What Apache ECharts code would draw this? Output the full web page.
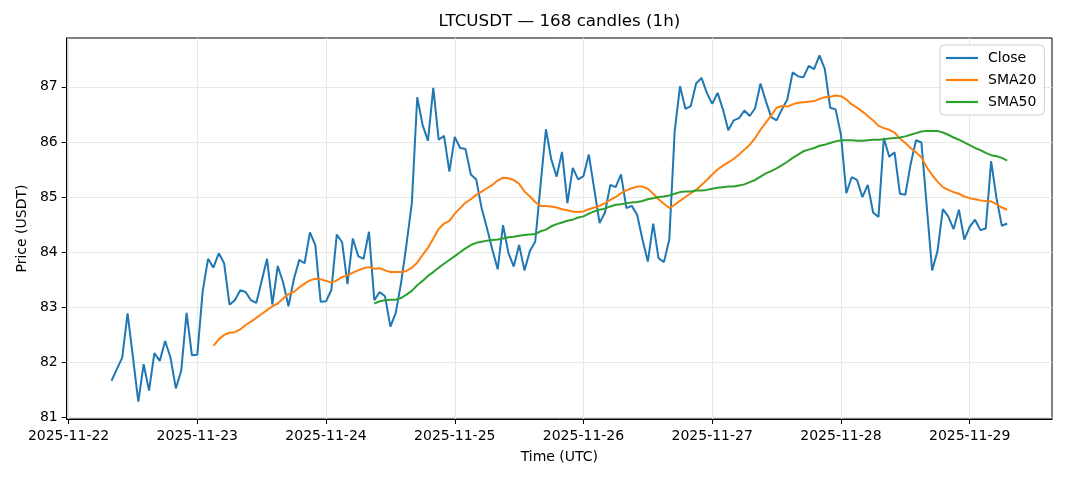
<!DOCTYPE html>
<html>
<head>
<meta charset="utf-8">
<script src="https://cdn.jsdelivr.net/npm/echarts@6/dist/echarts.min.js"></script>
<style>
html,body{margin:0;padding:0;background:#ffffff;}
#chart{width:1068px;height:481px;}
</style>
</head>
<body>
<div id="chart"></div>
<script>
// first candle: 2025-11-22 08:00 UTC, one candle per hour
const firstHour = 8;
const dayLabels = ['2025-11-22','2025-11-23','2025-11-24','2025-11-25','2025-11-26','2025-11-27','2025-11-28','2025-11-29'];
const priceTicks = [81, 82, 83, 84, 85, 86, 87];

const closeValues = [
  81.67,81.88,82.09,82.89,82.10,81.29,81.97,81.49,82.17,82.03,82.39,82.09,81.53,81.85,82.90,82.13,
  82.14,83.29,83.88,83.72,83.98,83.80,83.05,83.13,83.31,83.28,83.13,83.08,83.48,83.88,83.05,83.75,
  83.45,83.02,83.51,83.86,83.80,84.36,84.13,83.10,83.11,83.32,84.32,84.18,83.42,84.25,83.93,83.88,
  84.37,83.13,83.28,83.20,82.65,82.90,83.45,84.14,84.89,86.81,86.31,86.02,86.98,86.04,86.11,85.46,
  86.09,85.89,85.87,85.41,85.32,84.80,84.44,84.05,83.69,84.49,83.99,83.74,84.13,83.67,84.02,84.19,
  85.22,86.23,85.68,85.37,85.82,84.89,85.53,85.32,85.38,85.77,85.15,84.53,84.72,85.22,85.18,85.41,
  84.80,84.84,84.68,84.23,83.83,84.52,83.89,83.82,84.23,86.19,87.01,86.60,86.65,87.06,87.16,86.89,
  86.69,86.89,86.59,86.21,86.39,86.43,86.57,86.47,86.61,87.06,86.74,86.45,86.39,86.59,86.77,87.26,
  87.19,87.17,87.38,87.32,87.57,87.32,86.62,86.59,86.13,85.07,85.36,85.31,85.00,85.22,84.72,84.64,
  86.07,85.73,85.81,85.06,85.04,85.60,86.03,85.99,84.83,83.67,84.02,84.78,84.65,84.42,84.77,84.23,
  84.46,84.59,84.40,84.43,85.65,84.98,84.48,84.52
];

const sma20Offset = 19;
const sma20Values = [
  82.30,82.42,82.50,82.54,82.55,82.60,82.68,82.74,82.81,82.88,82.95,83.02,83.07,83.16,83.24,83.28,
  83.36,83.43,83.49,83.52,83.51,83.48,83.45,83.49,83.55,83.58,83.63,83.67,83.71,83.73,83.70,83.71,
  83.67,83.64,83.64,83.64,83.66,83.72,83.81,83.95,84.08,84.25,84.42,84.52,84.57,84.70,84.80,84.90,
  84.96,85.04,85.10,85.16,85.22,85.30,85.35,85.34,85.31,85.24,85.10,85.01,84.91,84.84,84.84,84.83,
  84.81,84.78,84.76,84.74,84.73,84.74,84.78,84.81,84.84,84.89,84.95,85.00,85.07,85.12,85.16,85.19,
  85.19,85.15,85.06,84.96,84.88,84.80,84.86,84.93,85.00,85.07,85.13,85.22,85.31,85.41,85.50,85.57,
  85.63,85.69,85.77,85.86,85.95,86.07,86.22,86.35,86.48,86.62,86.65,86.64,86.68,86.71,86.72,86.73,
  86.74,86.78,86.81,86.82,86.84,86.83,86.77,86.68,86.62,86.55,86.47,86.39,86.29,86.25,86.22,86.17,
  86.06,85.98,85.89,85.81,85.72,85.54,85.40,85.28,85.18,85.13,85.09,85.06,85.01,84.98,84.96,84.94,
  84.93,84.92,84.87,84.81,84.77
];

const sma50Offset = 49;
const sma50Values = [
  83.07,83.11,83.13,83.14,83.14,83.17,83.23,83.30,83.40,83.48,83.57,83.64,83.72,83.79,83.86,83.93,
  84.00,84.07,84.13,84.17,84.19,84.21,84.22,84.23,84.25,84.27,84.28,84.30,84.31,84.32,84.33,84.38,
  84.41,84.47,84.51,84.54,84.57,84.59,84.63,84.65,84.70,84.74,84.77,84.79,84.83,84.86,84.87,84.89,
  84.90,84.91,84.93,84.96,84.98,85.00,85.01,85.03,85.06,85.09,85.10,85.10,85.12,85.12,85.13,85.15,
  85.17,85.18,85.19,85.19,85.21,85.23,85.27,85.31,85.37,85.43,85.47,85.52,85.58,85.64,85.71,85.77,
  85.83,85.86,85.89,85.93,85.95,85.98,86.01,86.03,86.03,86.03,86.02,86.02,86.03,86.04,86.04,86.05,
  86.06,86.07,86.08,86.10,86.13,86.16,86.19,86.20,86.20,86.20,86.17,86.13,86.08,86.04,85.99,85.94,
  85.89,85.85,85.80,85.76,85.74,85.71,85.66
];

// x position in days since 2025-11-22 00:00 UTC
function dayPos(index) { return (firstHour + index) / 24; }
function toPairs(values, offset) { return values.map((v, i) => [dayPos(offset + i), v]); }

const FONT = 'DejaVu Sans';
const n = closeValues.length;
const xPad = (n - 1) * 0.05;                  // matplotlib 5% margins (hours)
const xMin = (firstHour - xPad) / 24;
const xMax = (firstHour + n - 1 + xPad) / 24;
const yLo = Math.min(...closeValues), yHi = Math.max(...closeValues);
const yPad = (yHi - yLo) * 0.05;
const yMin = yLo - yPad, yMax = yHi + yPad;
const dayTickValues = dayLabels.map((_, i) => i);

function isInt(v) { return Math.abs(v - Math.round(v)) < 1e-6; }

const chart = echarts.init(document.getElementById('chart'), null, { renderer: 'canvas' });
chart.setOption({
  backgroundColor: '#ffffff',
  animation: false,
  title: {
    text: 'LTCUSDT \u2014 168 candles (1h)',
    left: 559.4, top: 13, padding: 0, textAlign: 'center',
    textStyle: { fontFamily: FONT, fontSize: 16.7, fontWeight: 'normal', color: '#000000' }
  },
  legend: {
    data: ['Close', 'SMA20', 'SMA50'],
    orient: 'vertical',
    left: 940, top: 45,
    icon: 'rect', itemWidth: 32, itemHeight: 2.2, itemGap: 8,
    padding: [6, 8, 6, 6],
    backgroundColor: 'rgba(255,255,255,0.8)',
    borderColor: '#cccccc', borderWidth: 1, borderRadius: 4,
    textStyle: { fontFamily: FONT, fontSize: 14, color: '#000000', padding: [0, 0, 0, 5] }
  },
  grid: {
    left: 66.7, right: 16, top: 38, bottom: 62,
    containLabel: false, outerBoundsMode: 'none',
    show: true, borderColor: '#000000', borderWidth: 1, backgroundColor: 'transparent'
  },
  xAxis: {
    type: 'value', min: xMin, max: xMax, minInterval: 1, maxInterval: 1, splitNumber: 8,
    name: 'Time (UTC)', nameLocation: 'middle', nameGap: 31,
    nameTextStyle: { fontFamily: FONT, fontSize: 14, color: '#000000' },
    axisLine: { show: true, onZero: false, lineStyle: { color: '#000000', width: 1 } },
    axisTick: { show: true, length: 5, customValues: dayTickValues, lineStyle: { color: '#000000', width: 1 } },
    axisLabel: {
      margin: 10, fontFamily: FONT, fontSize: 14, color: '#000000',
      customValues: dayTickValues,
      formatter: v => (isInt(v) && dayLabels[Math.round(v)]) ? dayLabels[Math.round(v)] : ''
    },
    splitLine: { show: true, lineStyle: { color: '#e8e8e8', width: 1 } }
  },
  yAxis: {
    type: 'value', min: yMin, max: yMax, minInterval: 1, maxInterval: 1,
    name: 'Price (USDT)', nameLocation: 'middle', nameGap: 37,
    nameTextStyle: { fontFamily: FONT, fontSize: 14, color: '#000000' },
    axisLine: { show: true, onZero: false, lineStyle: { color: '#000000', width: 1 } },
    axisTick: { show: true, length: 5, customValues: priceTicks, lineStyle: { color: '#000000', width: 1 } },
    axisLabel: {
      margin: 9, fontFamily: FONT, fontSize: 14, color: '#000000',
      customValues: priceTicks,
      formatter: v => (isInt(v) && priceTicks.indexOf(Math.round(v)) >= 0) ? String(Math.round(v)) : ''
    },
    splitLine: { show: true, lineStyle: { color: '#e8e8e8', width: 1 } }
  },
  series: [
    { name: 'Close', type: 'line', data: toPairs(closeValues, 0), showSymbol: false, symbol: 'none',
      color: '#1f77b4', lineStyle: { color: '#1f77b4', width: 2 }, z: 3 },
    { name: 'SMA20', type: 'line', data: toPairs(sma20Values, sma20Offset), showSymbol: false, symbol: 'none',
      color: '#ff7f0e', lineStyle: { color: '#ff7f0e', width: 2 }, z: 4 },
    { name: 'SMA50', type: 'line', data: toPairs(sma50Values, sma50Offset), showSymbol: false, symbol: 'none',
      color: '#2ca02c', lineStyle: { color: '#2ca02c', width: 2 }, z: 5 }
  ]
});
</script>
</body>
</html>
